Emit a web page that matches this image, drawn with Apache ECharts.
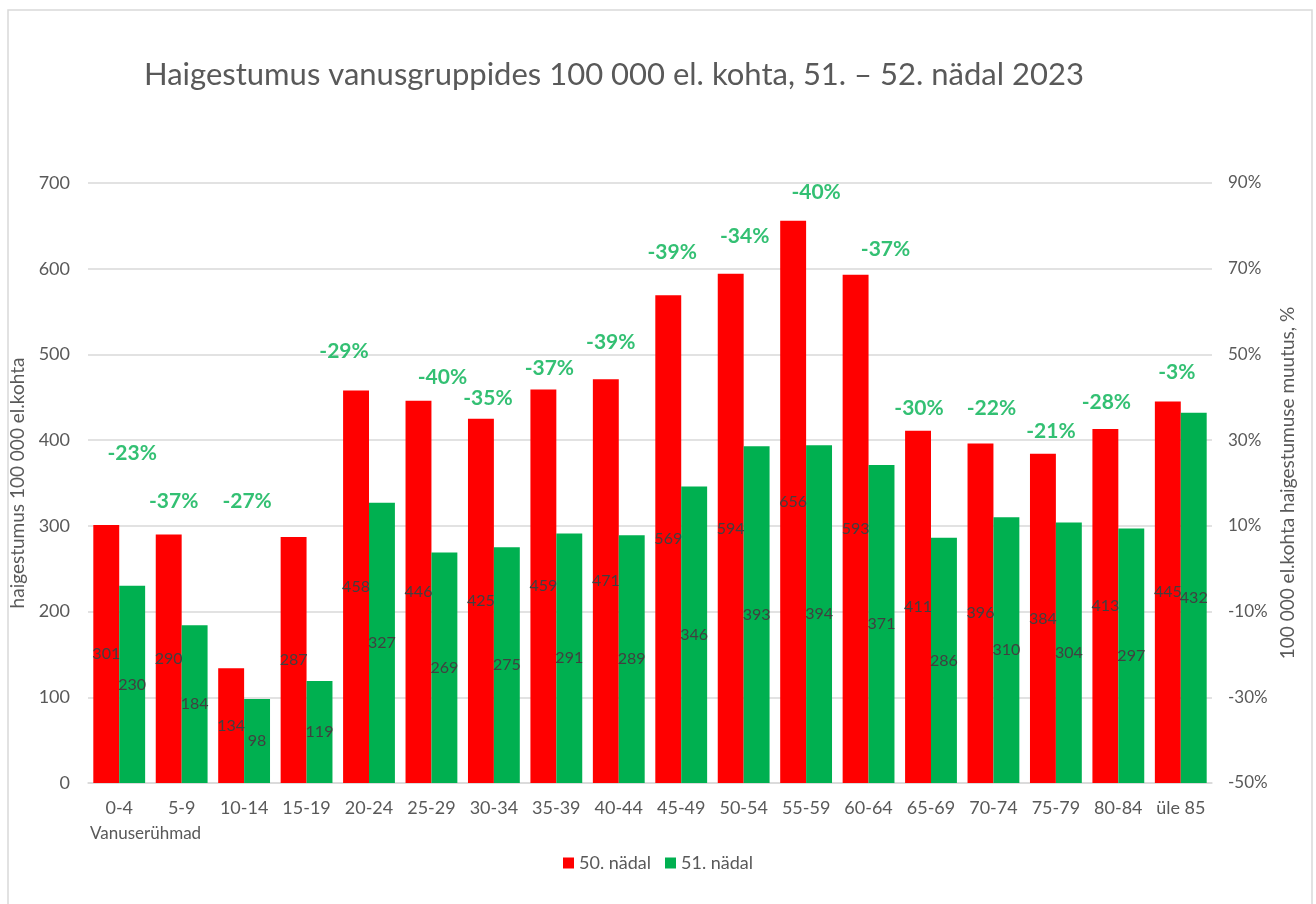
<!DOCTYPE html>
<html>
<head>
<meta charset="utf-8">
<title>Haigestumus vanusgruppides</title>
<script src="https://cdn.jsdelivr.net/npm/echarts@6/dist/echarts.min.js"></script>
<style>
  html, body { margin: 0; padding: 0; background: #fff; }
  #chart { width: 1316px; height: 904px; }
</style>
</head>
<body>
<div id="chart"></div>
<script>
// andmed
var ageGroups = ["0-4", "5-9", "10-14", "15-19", "20-24", "25-29", "30-34", "35-39", "40-44",
  "45-49", "50-54", "55-59", "60-64", "65-69", "70-74", "75-79", "80-84", "üle 85"];
var week50 = [301, 290, 134, 287, 458, 446, 425, 459, 471, 569, 594, 656, 593, 411, 396, 384, 413, 445];
var week51 = [230, 184, 98, 119, 327, 269, 275, 291, 289, 346, 393, 394, 371, 286, 310, 304, 297, 432];
var changePct = [-23, -37, -27, null, -29, -40, -35, -37, -39, -39, -34, -40, -37, -30, -22, -21, -28, -3];
var leftTicks = [0, 700, 100];
var rightTicks = [-50, 90, 20];

// muutuse siltide nihked (nagu Excelis käsitsi lohistatud sildid)
var pctLabelNudge = [[13, -72], [-8, -33], [3, -167], [0, 0], [-25, -39], [11, -23], [-6, -20], [-7, -21], [-8, -37],
  [-9, -43], [1, -38], [10, -28], [17, -25], [-12, -22], [-2, -35], [-5, -23], [-12, -27], [-4, -29]];

(function () {
  var myChart = echarts.init(document.getElementById("chart"));
  var font = "Lato";
  var grey = "#595959";

  // protsendisildid ankurdatakse punase tulba tippu
  var pctData = [];
  for (var i = 0; i < ageGroups.length; i++) {
    if (changePct[i] === null) continue;
    pctData.push({
      value: [i, week50[i]],
      pct: changePct[i],
      label: { offset: pctLabelNudge[i] }
    });
  }

  var option = {
    animation: false,
    textStyle: { fontFamily: font },
    title: {
      text: "Haigestumus vanusgruppides 100 000 el. kohta, 51. – 52. nädal 2023",
      left: 139,
      top: 54,
      textStyle: { fontFamily: font, fontSize: 31, fontWeight: "normal", color: grey }
    },
    legend: {
      data: ["50. nädal", "51. nädal"],
      left: "center",
      bottom: 27,
      itemWidth: 11,
      itemHeight: 11,
      itemGap: 14,
      icon: "rect",
      textStyle: { fontFamily: font, fontSize: 18, color: grey }
    },
    grid: {
      left: 88,
      right: 104,
      top: 183,
      bottom: 121
    },
    graphic: [
      {
        type: "rect",
        shape: { x: 8, y: 10, width: 1304, height: 900 },
        style: { fill: "none", stroke: "#d9d9d9", lineWidth: 1.5 },
        silent: true
      },
      {
        type: "text",
        left: 90,
        top: 825,
        style: { text: "Vanuserühmad", font: "17px Lato", fill: grey }
      }
    ],
    xAxis: {
      type: "category",
      data: ageGroups,
      axisTick: { show: false },
      axisLine: { lineStyle: { color: "#d9d9d9", width: 1.5 } },
      axisLabel: { color: grey, fontSize: 18, margin: 16, interval: 0 }
    },
    yAxis: [
      {
        type: "value",
        min: leftTicks[0],
        max: leftTicks[1],
        interval: leftTicks[2],
        name: "haigestumus 100 000 el.kohta",
        nameLocation: "middle",
        nameRotate: 90,
        nameGap: 51,
        nameTextStyle: { color: grey, fontSize: 19 },
        axisLine: { show: false },
        axisTick: { show: false },
        axisLabel: { color: grey, fontSize: 18, margin: 18 },
        splitLine: { lineStyle: { color: "#d9d9d9", width: 1.5 } }
      },
      {
        type: "value",
        min: rightTicks[0],
        max: rightTicks[1],
        interval: rightTicks[2],
        position: "right",
        name: "100 000 el.kohta haigestumuse muutus, %",
        nameLocation: "middle",
        nameRotate: 90,
        nameGap: 60,
        nameTextStyle: { color: grey, fontSize: 19 },
        axisLine: { show: false },
        axisTick: { show: false },
        axisLabel: { color: grey, fontSize: 17, margin: 16, formatter: "{value}%" },
        splitLine: { show: false }
      }
    ],
    series: [
      {
        name: "50. nädal",
        type: "bar",
        data: week50,
        barGap: "0%",
        barCategoryGap: "17%",
        itemStyle: { color: "#ff0000" },
        label: { show: true, position: "inside", color: "#404040", fontSize: 16 }
      },
      {
        name: "51. nädal",
        type: "bar",
        data: week51,
        itemStyle: { color: "#00b050" },
        label: { show: true, position: "inside", color: "#404040", fontSize: 16 }
      },
      {
        name: "muutus",
        type: "scatter",
        data: pctData,
        symbolSize: 0,
        z: 5,
        silent: true,
        label: {
          show: true,
          position: "inside",
          color: "#00b050",
          fontSize: 21,
          fontWeight: "bold",
          formatter: function (p) {
            return p.data.pct + "%";
          }
        }
      }
    ]
  };

  myChart.setOption(option);
  window.addEventListener("resize", function () {
    myChart.resize();
  });
})();
</script>
</body>
</html>
